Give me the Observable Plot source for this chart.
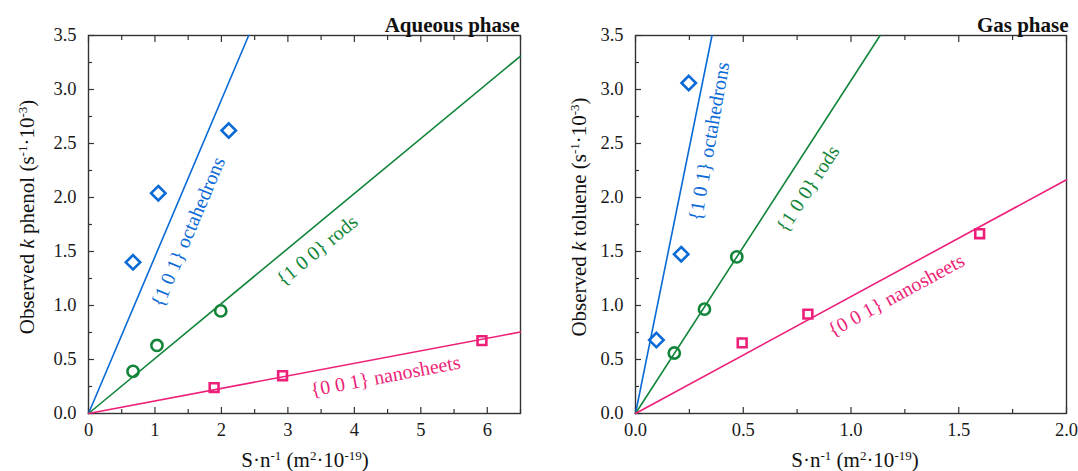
<!DOCTYPE html>
<html>
<head>
<meta charset="utf-8">
<script src="https://cdn.jsdelivr.net/npm/d3@7"></script>
<script src="https://cdn.jsdelivr.net/npm/@observablehq/plot@0.6"></script>
<style>
  html, body { margin: 0; padding: 0; background: #fff; }
  #wrap { display: flex; width: 1078px; height: 471px; }
  svg text { font-family: "Liberation Serif", "DejaVu Serif", serif; }
</style>
</head>
<body>
<div id="wrap"></div>
<script>
// ---------- data ----------
const colors = {oct: "#0a6ad6", rods: "#12853a", sheets: "#ee1f78"};

// Aqueous phase (phenol)
const aqOct    = [[0.67, 1.40], [1.05, 2.04], [2.11, 2.62]];
const aqRods   = [[0.67, 0.39], [1.03, 0.63], [1.99, 0.95]];
const aqSheets = [[1.89, 0.24], [2.92, 0.35], [5.92, 0.675]];
const aqFitOct    = [[0, 0], [2.41, 3.5]];
const aqFitRods   = [[0, 0], [6.5, 3.31]];
const aqFitSheets = [[0, 0], [6.5, 0.755]];
const aqLabels = [
  {x: 1.50, y: 1.68, text: "{1 0 1} octahedrons", key: "oct", angle: -67},
  {x: 3.44, y: 1.51, text: "{1 0 0} rods", key: "rods", angle: -39.6},
  {x: 4.47, y: 0.345, text: "{0 0 1} nanosheets", key: "sheets", angle: -10.7}
];

// Gas phase (toluene)
const gasOct    = [[0.097, 0.68], [0.212, 1.475], [0.247, 3.06]];
const gasRods   = [[0.18, 0.56], [0.32, 0.966], [0.47, 1.45]];
const gasSheets = [[0.495, 0.654], [0.80, 0.92], [1.597, 1.665]];
const gasFitOct    = [[0, 0], [0.355, 3.5]];
const gasFitRods   = [[0, 0], [1.135, 3.5]];
const gasFitSheets = [[0, 0], [2.0, 2.165]];
const gasLabels = [
  {x: 0.342, y: 2.52, text: "{1 0 1} octahedrons", key: "oct", angle: -80},
  {x: 0.800, y: 2.08, text: "{1 0 0} rods", key: "rods", angle: -57},
  {x: 1.21, y: 1.094, text: "{0 0 1} nanosheets", key: "sheets", angle: -28.5}
];

const aqXTicks = [0, 1, 2, 3, 4, 5, 6];
const aqXMinor = [0.5, 1.5, 2.5, 3.5, 4.5, 5.5, 6.5];
const gasXTicks = [0, 0.5, 1.0, 1.5, 2.0];
const gasXMinor = [0.25, 0.75, 1.25, 1.75];
const yTicks = [0, 0.5, 1.0, 1.5, 2.0, 2.5, 3.0, 3.5];
const yMinor = [0.25, 0.75, 1.25, 1.75, 2.25, 2.75, 3.25];

// ---------- helpers ----------
const FONT = "Liberation Serif";

function panel(opts) {
  const {width, marginLeft, marginRight, xDomain, xTicks, xMinor, xFmt,
         oct, rods, sheets, fitOct, fitRods, fitSheets, labels, title, titleDx} = opts;
  const ax = {label: null, stroke: "#333", strokeWidth: 1.2, fontFamily: FONT};
  const marks = [
    Plot.frame({stroke: "#333", strokeWidth: 1.4}),
    Plot.axisX({...ax, ticks: xTicks, tickSize: -6, tickPadding: 15, tickFormat: xFmt,
                fontSize: 18.5, color: "#1a1a1a"}),
    Plot.axisX({...ax, ticks: xMinor, tickSize: -4, tickFormat: () => ""}),
    Plot.axisX({...ax, anchor: "top", ticks: xTicks, tickSize: -6, tickFormat: () => ""}),
    Plot.axisX({...ax, anchor: "top", ticks: xMinor, tickSize: -4, tickFormat: () => ""}),
    Plot.axisY({...ax, ticks: yTicks, tickSize: -6, tickPadding: 18, tickFormat: d3.format(".1f"),
                fontSize: 18.5, color: "#1a1a1a"}),
    Plot.axisY({...ax, ticks: yMinor, tickSize: -4, tickFormat: () => ""}),
    Plot.line(fitOct, {x: d => d[0], y: d => d[1], stroke: colors.oct, strokeWidth: 1.6}),
    Plot.line(fitRods, {x: d => d[0], y: d => d[1], stroke: colors.rods, strokeWidth: 1.6}),
    Plot.line(fitSheets, {x: d => d[0], y: d => d[1], stroke: colors.sheets, strokeWidth: 1.6}),
    Plot.dot(oct, {x: d => d[0], y: d => d[1], symbol: "diamond2", r: 6.5, stroke: colors.oct, strokeWidth: 2.6, fill: "none"}),
    Plot.dot(rods, {x: d => d[0], y: d => d[1], symbol: "circle", r: 5.6, stroke: colors.rods, strokeWidth: 2.6, fill: "none"}),
    Plot.dot(sheets, {x: d => d[0], y: d => d[1], symbol: "square2", r: 5.6, stroke: colors.sheets, strokeWidth: 2.6, fill: "none"}),
    ...labels.map(l => Plot.text([l], {x: "x", y: "y", text: "text", rotate: l.angle,
        fill: colors[l.key], fontSize: 20, fontFamily: FONT})),
    Plot.text([title], {frameAnchor: "top-right", text: d => d, lineAnchor: "bottom", dy: -4, dx: titleDx, textAnchor: "end",
        fontSize: 21, fontWeight: "bold", fill: "#111", fontFamily: FONT})
  ];
  return Plot.plot({
    width, height: 471,
    marginTop: 35, marginBottom: 58, marginLeft, marginRight,
    style: {fontFamily: FONT, background: "white", overflow: "visible"},
    x: {domain: xDomain, label: null},
    y: {domain: [0, 3.5], label: null},
    marks
  });
}

function richText(svg, x, y, rotate, parts) {
  const t = d3.select(svg).append("text")
    .attr("transform", `translate(${x},${y}) rotate(${rotate})`)
    .attr("text-anchor", "middle")
    .attr("font-family", FONT)
    .attr("font-size", 21)
    .attr("fill", "#111");
  for (const p of parts) {
    if (typeof p === "string") t.append("tspan").text(p);
    else if (p.i) t.append("tspan").attr("font-style", "italic").text(p.i);
    else if (p.sup) t.append("tspan").attr("baseline-shift", "super").attr("font-size", 13).text(p.sup);
  }
}

const wrap = document.getElementById("wrap");

const left = panel({
  width: 540, marginLeft: 88, marginRight: 20, xDomain: [0, 6.5],
  xTicks: aqXTicks, xMinor: aqXMinor, xFmt: d3.format("d"),
  oct: aqOct, rods: aqRods, sheets: aqSheets,
  fitOct: aqFitOct, fitRods: aqFitRods, fitSheets: aqFitSheets,
  labels: aqLabels, title: "Aqueous phase", titleDx: -1
});
richText(left, 34, 217, -90, ["Observed ", {i: "k"}, " phenol (s", {sup: "-1"}, "·10", {sup: "-3"}, ")"]);
richText(left, 305, 467, 0, ["S·n", {sup: "-1"}, " (m", {sup: "2"}, "·10", {sup: "-19"}, ")"]);
wrap.appendChild(left);

const right = panel({
  width: 538, marginLeft: 95, marginRight: 12, xDomain: [0, 2.0],
  xTicks: gasXTicks, xMinor: gasXMinor, xFmt: d3.format(".1f"),
  oct: gasOct, rods: gasRods, sheets: gasSheets,
  fitOct: gasFitOct, fitRods: gasFitRods, fitSheets: gasFitSheets,
  labels: gasLabels, title: "Gas phase", titleDx: 2
});
richText(right, 46, 217, -90, ["Observed ", {i: "k"}, " toluene (s", {sup: "-1"}, "·10", {sup: "-3"}, ")"]);
richText(right, 315, 467, 0, ["S·n", {sup: "-1"}, " (m", {sup: "2"}, "·10", {sup: "-19"}, ")"]);
wrap.appendChild(right);
</script>
</body>
</html>
